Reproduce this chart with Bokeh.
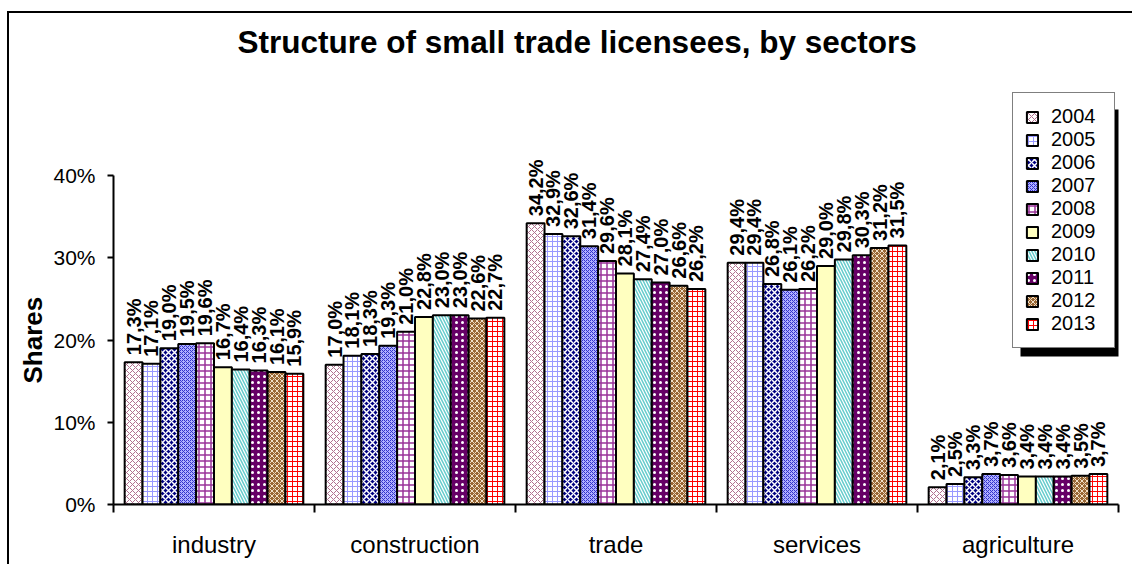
import math
from bokeh.plotting import figure
from bokeh.models import (Range1d, ColumnDataSource, LinearAxis, Title,
                          FixedTicker, NumeralTickFormatter, Legend, LegendItem, BoxAnnotation)
from bokeh.transform import dodge
from bokeh.core.properties import value
from bokeh.embed import file_html
from bokeh.resources import INLINE

# ---------------- data ----------------
categories = ["industry", "construction", "trade", "services", "agriculture"]
years = ["2004", "2005", "2006", "2007", "2008", "2009", "2010", "2011", "2012", "2013"]
# shares in % per year (industry, construction, trade, services, agriculture)
v2004 = [17.3, 17.0, 34.2, 29.4, 2.1]
v2005 = [17.1, 18.1, 32.9, 29.4, 2.5]
v2006 = [19.0, 18.3, 32.6, 26.8, 3.3]
v2007 = [19.5, 19.3, 31.4, 26.1, 3.7]
v2008 = [19.6, 21.0, 29.6, 26.2, 3.6]
v2009 = [16.7, 22.8, 28.1, 29.0, 3.4]
v2010 = [16.4, 23.0, 27.4, 29.8, 3.4]
v2011 = [16.3, 23.0, 27.0, 30.3, 3.4]
v2012 = [16.1, 22.6, 26.6, 31.2, 3.5]
v2013 = [15.9, 22.7, 26.2, 31.5, 3.7]
series = [v2004, v2005, v2006, v2007, v2008, v2009, v2010, v2011, v2012, v2013]
y_ticks = [0, 0.1, 0.2, 0.3, 0.4]

# ---------------- styles ----------------
FONT = "Liberation Sans"
styles = [
    dict(fill_color="white", hatch_pattern="diagonal_cross", hatch_color="#B07090", hatch_scale=6, hatch_weight=1),
    dict(fill_color="white", hatch_pattern="cross", hatch_color="#9999FF", hatch_scale=5, hatch_weight=1),
    dict(fill_color="#000080", hatch_pattern="diagonal_cross", hatch_color="white", hatch_scale=6, hatch_weight=1.5),
    dict(fill_color="#B0B0FF", hatch_pattern="diagonal_cross", hatch_color="#3333CC", hatch_scale=4, hatch_weight=1),
    dict(fill_color="white", hatch_pattern="cross", hatch_color="#993399", hatch_scale=6, hatch_weight=1.5),
    dict(fill_color="#FFFFC0", hatch_pattern=None),
    dict(fill_color="white", hatch_pattern="left_diagonal_line", hatch_color="#66CCCC", hatch_scale=6, hatch_weight=1.5),
    dict(fill_color="#660066", hatch_pattern="dot", hatch_color="white", hatch_scale=6, hatch_weight=1),
    dict(fill_color="#996633", hatch_pattern="diagonal_cross", hatch_color="#F0E0C8", hatch_scale=5, hatch_weight=1),
    dict(fill_color="white", hatch_pattern="cross", hatch_color="#FF0000", hatch_scale=5, hatch_weight=1),
]

ncat = len(categories)
centers = [i + 0.5 for i in range(ncat)]

W, H = 1125, 553
p = figure(width=W, height=H,
           x_range=Range1d(0, ncat),
           y_range=Range1d(0, 0.5301),
           output_backend="svg", toolbar_location=None,
           x_axis_location=None, y_axis_location=None,
           min_border_left=104, min_border_right=16, min_border_top=55, min_border_bottom=62)
p.styles = {"margin-left": "7px", "margin-top": "11px",
            "border-left": "2px solid black", "border-top": "2px solid black"}
for g in p.grid:
    g.visible = False
p.outline_line_color = None
p.background_fill_color = "white"
p.border_fill_color = "white"

p.title.text = "Structure of small trade licensees, by sectors"
p.title.text_font = FONT
p.title.text_font_size = "31.5px"
p.title.text_font_style = "bold"
p.title.text_color = "black"
p.title.align = "left"
p.title.offset = 124
p.title.standoff = 17

# x axis: labels at category centres, boundary ticks as minor ticks
x_axis = LinearAxis(ticker=FixedTicker(ticks=centers, minor_ticks=list(range(ncat + 1))),
                    major_label_overrides={c: name for c, name in zip(centers, categories)},
                    axis_line_color="black", axis_line_width=2,
                    major_tick_line_color=None, major_tick_in=0, major_tick_out=8,
                    minor_tick_line_color="black", minor_tick_line_width=2,
                    minor_tick_in=0, minor_tick_out=8,
                    major_label_text_font=FONT, major_label_text_font_size="24px",
                    major_label_text_color="black", major_label_standoff=18)
p.add_layout(x_axis, "below")

y_axis = LinearAxis(bounds=(0, 0.4), ticker=FixedTicker(ticks=y_ticks),
                    formatter=NumeralTickFormatter(format="0%"),
                    axis_line_color="black", axis_line_width=2,
                    major_tick_line_color="black", major_tick_line_width=2,
                    major_tick_in=0, major_tick_out=6, minor_tick_line_color=None,
                    major_label_text_font=FONT, major_label_text_font_size="21px",
                    major_label_text_color="black", major_label_standoff=12)
p.add_layout(y_axis, "left")

p.add_layout(Title(text="Shares", align="left", offset=121, standoff=5,
                   text_font=FONT, text_font_size="26px", text_font_style="bold",
                   text_color="black"), "left")

# bars and labels
n = len(years)
step = 0.8 / (n - 1)
items = []
for j, (yr, vals) in enumerate(zip(years, series)):
    off = -0.4 + j * step
    src = ColumnDataSource(dict(xc=centers, val=[v / 100 for v in vals],
                                lbl=[("%.1f%%" % v).replace(".", ",") for v in vals]))
    st = dict(styles[j])
    r = p.vbar(x=dodge("xc", off), top="val", width=step, source=src,
               line_color="black", line_width=2, **st)
    p.text(x=dodge("xc", off), y="val", text="lbl", source=src,
           angle=math.pi / 2, text_align="left", text_baseline="middle", y_offset=-7,
           text_font=value(FONT), text_font_size="20px", text_font_style="bold", text_color="black")
    items.append(LegendItem(label=yr, renderers=[r]))

# legend shadow
shadow = BoxAnnotation(left=1009, right=1110, top=94, bottom=341,
                       left_units="canvas", right_units="canvas", top_units="canvas", bottom_units="canvas",
                       fill_color="black", fill_alpha=1, line_color=None)
p.add_layout(shadow, "center")

legend = Legend(items=items, location=(899, 156), orientation="vertical",
                border_line_color="black", border_line_width=1.5,
                background_fill_color="white", background_fill_alpha=1,
                label_text_font=FONT, label_text_font_size="20px", label_text_color="black",
                glyph_width=14, glyph_height=14, spacing=0, padding=12, margin=0,
                label_standoff=12, label_width=51)
p.add_layout(legend, "center")

open("out.html", "w").write(file_html(p, INLINE))
